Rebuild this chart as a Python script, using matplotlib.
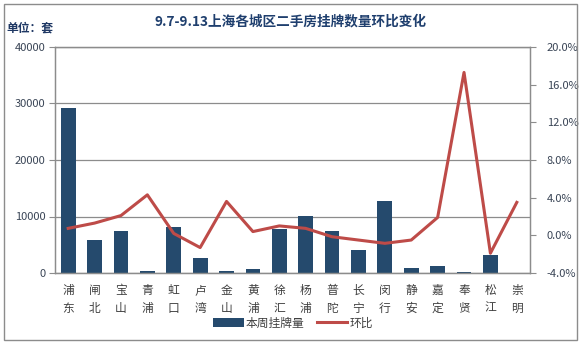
import matplotlib
matplotlib.use("Agg")
import matplotlib.pyplot as plt
from matplotlib.patches import Rectangle
import numpy as np

plt.rcParams['font.family'] = ['Noto Sans CJK SC', 'DejaVu Sans']

# data
districts = ['浦东', '闸北', '宝山', '青浦', '虹口', '卢湾', '金山', '黄浦', '徐汇',
             '杨浦', '普陀', '长宁', '闵行', '静安', '嘉定', '奉贤', '松江', '崇明']
listings = [29200, 5800, 7400, 400, 8150, 2650, 400, 700, 7850,
            10100, 7400, 4000, 12700, 850, 1200, 200, 3200, 0]
mom_pct = [0.74, 1.3, 2.1, 4.3, 0.2, -1.3, 3.6, 0.4, 1.0,
           0.74, -0.15, -0.5, -0.85, -0.5, 1.9, 17.3, -1.9, 3.5]

bar_color = '#254a6d'
line_color = '#be4b48'
text_dark = '#3a4556'

fig = plt.figure(figsize=(5.81, 3.46), dpi=100)
ax = fig.add_axes([55/581, 1-273/346, 475/581, 226/346])
x = np.arange(len(districts))

bars = ax.bar(x, listings, width=0.56, color=bar_color, zorder=2, label='本周挂牌量')
ax.set_xlim(-0.5, len(districts)-0.5)
ax.set_ylim(0, 40000)
ax.set_yticks(np.arange(0, 40001, 10000))
ax.yaxis.grid(True, color='#8c8c8c', linewidth=0.9, zorder=0)
ax.set_axisbelow(True)
for s in ax.spines.values():
    s.set_color('#8c8c8c')
    s.set_linewidth(0.9)
ax.tick_params(axis='y', direction='out', length=4, color='#8c8c8c',
               labelsize=8, labelcolor=text_dark, pad=3)
ax.set_xticks(x)
ax.set_xticklabels(['\n'.join(d) for d in districts], fontsize=8.5,
                   color='#404040', linespacing=1.45)
ax.tick_params(axis='x', length=0, pad=8)

ax2 = ax.twinx()
ln, = ax2.plot(x, mom_pct, color=line_color, linewidth=2.2, zorder=3, label='环比')
ax2.set_ylim(-4, 20)
ax2.set_yticks(np.arange(-4, 20.1, 4))
ax2.set_yticklabels(['%.1f%%' % v for v in np.arange(-4, 20.1, 4)])
ax2.tick_params(axis='y', direction='out', length=4, color='#8c8c8c',
                labelsize=8, labelcolor=text_dark, pad=8)
for s in ax2.spines.values():
    s.set_color('#8c8c8c')
    s.set_linewidth(0.9)

fig.text(0.5, 1-21/346, '9.7-9.13上海各城区二手房挂牌数量环比变化', ha='center', va='center',
         fontsize=9.8, fontweight='bold', color='#1f3f6e')
fig.text(6/581, 1-28/346, '单位：套', ha='left', va='center',
         fontsize=8.5, fontweight='bold', color='#1f3864')

fig.legend([bars, ln], ['本周挂牌量', '环比'], loc='center', ncol=2,
           bbox_to_anchor=(293/581, 1-323/346), frameon=False, fontsize=8.5,
           handlelength=2.6, handletextpad=0.2, columnspacing=1.0,
           labelcolor='#404040')

fig.patches.append(Rectangle((4/581, 1-340/346), 573/581, 336/346,
                             transform=fig.transFigure, fill=False,
                             edgecolor='#8c8c8c', linewidth=1.0))

fig.savefig('out.png', dpi=100)
